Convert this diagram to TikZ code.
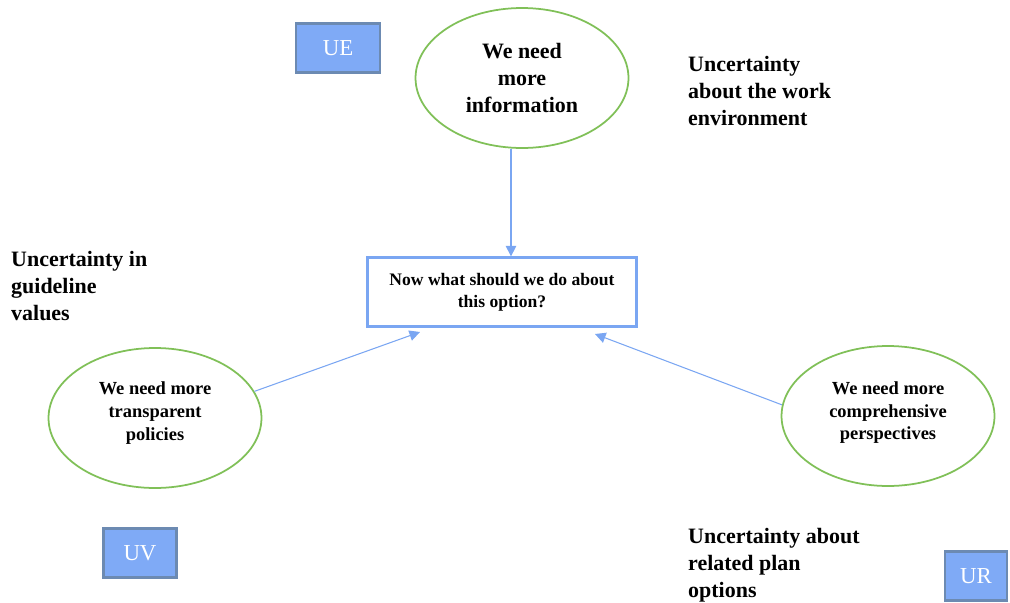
\documentclass[tikz,border=0pt]{standalone}
\usepackage{fontspec}
\setmainfont{Liberation Serif}
\usetikzlibrary{shapes.geometric,arrows.meta}
\definecolor{tagfill}{RGB}{127,170,246}
\definecolor{tagline}{RGB}{108,138,178}
\definecolor{ovalgreen}{RGB}{128,192,88}
\definecolor{linkblue}{RGB}{122,166,242}
\newcommand{\note}[1]{node[anchor=north west,align=left,font=\bfseries\fontsize{12.5}{15.5}\selectfont]{#1}}

\begin{document}
\begin{tikzpicture}[x=0.02cm,y=-0.02cm,
  tag/.style={draw=tagline,fill=tagfill,line width=1.3pt,minimum width=#1,minimum height=0.98cm,inner sep=0pt,text=white,font=\fontsize{13}{15}\selectfont},
  oval/.style={ellipse,draw=ovalgreen,line width=1pt,minimum width=4.26cm,minimum height=2.8cm,align=center,inner sep=0pt},
  link/.style={linkblue,line width=0.6pt,-{Triangle[length=6pt,width=6pt]}}]
\useasboundingbox (0,0) rectangle (1010,602);
\node[tag=1.68cm] (ue) at (338,48) {UE};
\node[tag=1.46cm] (uv) at (140,553) {UV};
\node[tag=1.24cm] (ur) at (976,576) {UR};
\node[oval,font=\bfseries\fontsize{12.5}{15.3}\selectfont] (info) at (522,78) {We need\\more\\information};
\node[oval,font=\bfseries\fontsize{10.5}{13}\selectfont] (policy) at (155,418) {We need more\\transparent\\policies\\[-5pt]};
\node[oval,font=\bfseries\fontsize{10.5}{13}\selectfont] (persp) at (888,416) {We need more\\comprehensive\\perspectives\\[-7pt]};
\node[draw=linkblue,line width=1.3pt,minimum width=5.38cm,minimum height=1.38cm,align=center,font=\bfseries\fontsize{10}{12.5}\selectfont] (option) at (502,292) {Now what should we do about\\this option?};
\draw (682,50) \note{Uncertainty\\about the work\\environment};
\draw (5,245) \note{Uncertainty in\\guideline\\values};
\draw (682,522) \note{Uncertainty about\\related plan\\options};
\draw[link] (info.south -| 511,0) -- (option.north -| 511,0);
\draw[link] (policy.15) -- (420,332);
\draw[link] (persp.174) -- (595,334);
\end{tikzpicture}
\end{document}
